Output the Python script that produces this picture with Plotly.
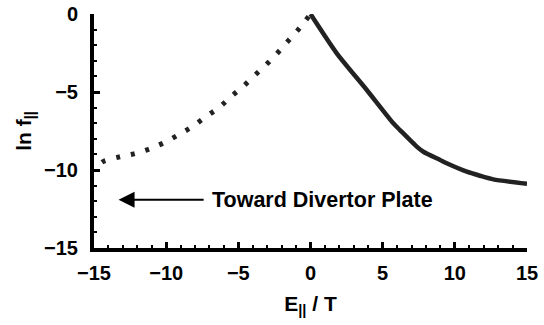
import plotly.graph_objects as go

# Data
dotted_E = [-14.45, -14.29, -13.20, -12.11, -11.05, -10.03, -9.04, -8.12, -7.24, -6.32,
            -5.51, -4.65, -3.86, -3.03, -2.27, -1.53, -0.79, 0.0]
dotted_ln = [-9.50, -9.42, -9.15, -8.93, -8.61, -8.19, -7.69, -7.18, -6.58, -5.98,
             -5.30, -4.62, -3.93, -3.21, -2.48, -1.71, -0.94, 0.0]

solid_E = [0.0, 1.82, 3.90, 5.74, 6.20, 7.36, 7.82, 8.98, 9.44, 10.83, 11.75, 12.67, 15.0]
solid_ln = [0.0, -2.52, -4.87, -7.01, -7.44, -8.50, -8.83, -9.36, -9.57, -10.11, -10.37, -10.60, -10.88]

tick_vals = [-15, -10, -5, 0, 5, 10, 15]
y_tick_vals = [-15, -10, -5, 0]

annot_text = "Toward Divertor Plate"
arrow_tail = (-7.3, -11.9)
arrow_head = (-13.3, -11.9)

FONT = "Liberation Sans, Arial, sans-serif"

fig = go.Figure()
fig.add_trace(go.Scatter(x=dotted_E, y=dotted_ln, mode="lines",
                         line=dict(color="#222222", width=5, dash="4px,11px", shape="spline"),
                         showlegend=False, hoverinfo="skip"))
fig.add_trace(go.Scatter(x=solid_E, y=solid_ln, mode="lines",
                         line=dict(color="#222222", width=4.5, shape="spline", smoothing=0.6),
                         showlegend=False, hoverinfo="skip"))

fig.add_annotation(x=arrow_head[0], y=arrow_head[1], ax=arrow_tail[0], ay=arrow_tail[1],
                   xref="x", yref="y", axref="x", ayref="y", text="",
                   showarrow=True, arrowhead=2, arrowsize=1.6, arrowwidth=2, arrowcolor="black")
fig.add_annotation(x=arrow_tail[0] + 0.35, y=arrow_tail[1], xref="x", yref="y",
                   text=annot_text, showarrow=False, xanchor="left", yanchor="middle",
                   font=dict(family=FONT, size=21.5, color="black", weight="bold"))

axis_common = dict(
    showgrid=False, zeroline=False, showline=True, linecolor="black", linewidth=4,
    ticks="inside", ticklen=6, tickwidth=3, tickcolor="black", automargin=False,
    tickfont=dict(family=FONT, size=20, color="black", weight="bold"),
    minor=dict(dtick=1, ticks="inside", ticklen=3, tickwidth=1.5, tickcolor="black"),
)

fig.update_xaxes(range=[-15, 15], tickvals=tick_vals, ticklabelstandoff=4,
                 title=dict(text="E<sub>||</sub> / T", standoff=14,
                            font=dict(family=FONT, size=21, color="black", weight="bold")),
                 **axis_common)
fig.update_yaxes(range=[-15, 0], tickvals=y_tick_vals, ticklabelstandoff=8,
                 title=dict(text="ln f<sub>||</sub>", standoff=8,
                            font=dict(family=FONT, size=21, color="black", weight="bold")),
                 **axis_common)

fig.update_layout(width=544, height=325, margin=dict(l=94, r=17, t=14, b=77),
                  plot_bgcolor="white", paper_bgcolor="white")

fig.write_html("out.html")
